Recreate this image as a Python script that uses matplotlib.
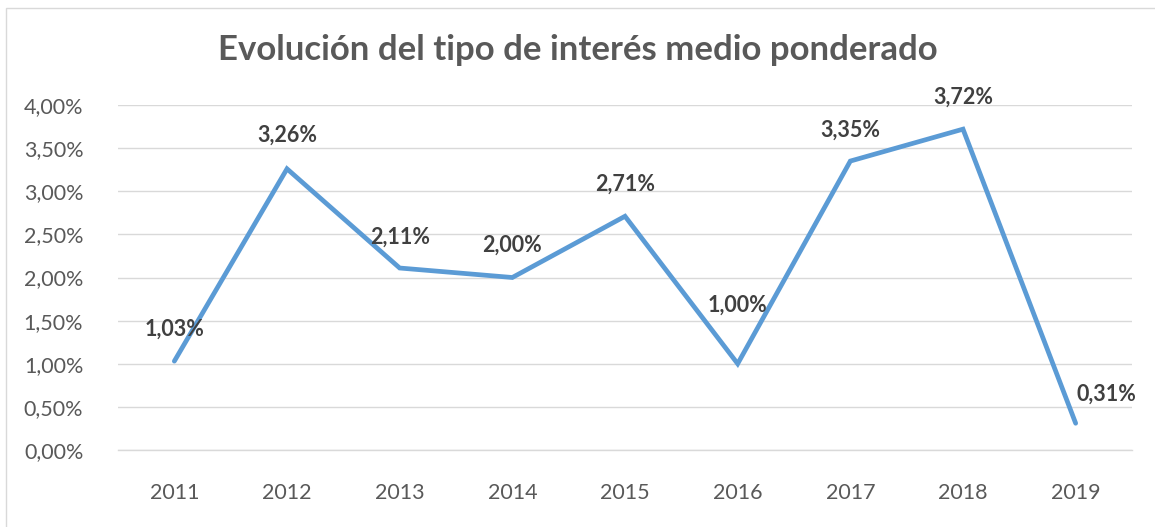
import matplotlib.pyplot as plt
from matplotlib.patches import Rectangle
from matplotlib.ticker import FuncFormatter

# --- data ---
years = ["2011", "2012", "2013", "2014", "2015", "2016", "2017", "2018", "2019"]
rates = [1.03, 3.26, 2.11, 2.00, 2.71, 1.00, 3.35, 3.72, 0.31]
yticks = [0.0, 0.5, 1.0, 1.5, 2.0, 2.5, 3.0, 3.5, 4.0]

# label offsets in points (dx, dy)
offsets = [(0, 23), (0, 24), (0, 22), (0, 23), (0, 23), (0, 42), (0, 22), (0, 23), (22, 21)]

plt.rcParams['font.family'] = ['Lato', 'DejaVu Sans']

fig = plt.figure(figsize=(11.55, 5.27), dpi=100)
fig.patch.set_facecolor('white')
# chart-area border: left and top visible, right/bottom run off the image
fig.patches.append(Rectangle((6 / 1155, -0.01), 1.05, 1 - 8 / 527 + 0.01,
                             transform=fig.transFigure, fill=False,
                             edgecolor='#D9D9D9', linewidth=1.0))

ax = fig.add_axes([118 / 1155, 1 - 450 / 527, (1132 - 118) / 1155, (450 - 105) / 527])
x = list(range(len(years)))
ax.plot(x, rates, color='#5B9BD5', linewidth=3.4, solid_capstyle='round',
        solid_joinstyle='miter', zorder=3)

for xi, v, (dx, dy) in zip(x, rates, offsets):
    ax.annotate(f"{v:.2f}%".replace('.', ','), (xi, v), xytext=(dx, dy),
                textcoords='offset points', ha='center', va='center',
                fontsize=15.5, fontweight='bold', color='#404040', zorder=4)

ax.set_xlim(-0.5, len(years) - 0.5)
ax.set_ylim(0, 4.0)
ax.set_yticks(yticks)
ax.yaxis.set_major_formatter(FuncFormatter(lambda v, p: f"{v:.2f}%".replace('.', ',')))
ax.set_xticks(x)
ax.set_xticklabels(years)
ax.grid(axis='y', color='#D9D9D9', linewidth=1.0, zorder=0)
ax.set_axisbelow(True)
for s in ['top', 'right', 'left']:
    ax.spines[s].set_visible(False)
ax.spines['bottom'].set_color('#D9D9D9')
ax.spines['bottom'].set_linewidth(1.0)
ax.tick_params(axis='both', length=0, labelsize=15.5, colors='#595959')
ax.tick_params(axis='x', pad=24)
ax.tick_params(axis='y', pad=25)

fig.text(0.5, 1 - 50 / 527, "Evolución del tipo de interés medio ponderado",
         ha='center', va='center', fontsize=25, fontweight='bold', color='#595959')

fig.savefig('out.png', dpi=100)
